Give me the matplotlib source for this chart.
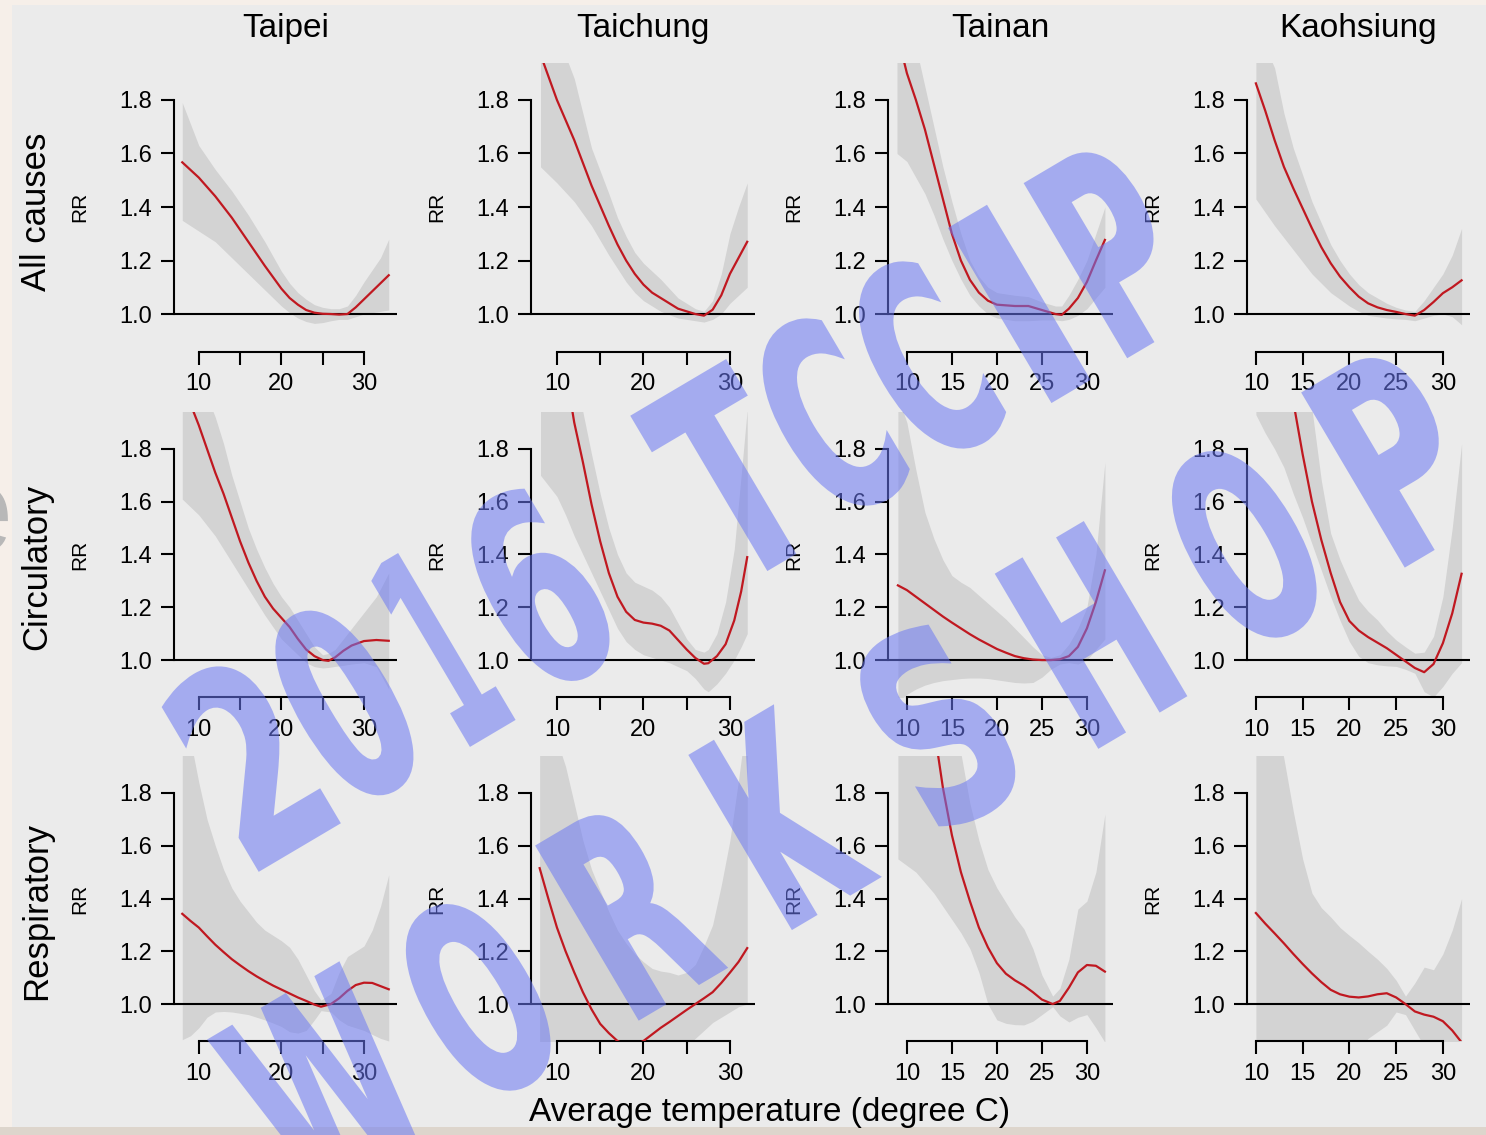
import matplotlib
matplotlib.use("Agg")
import matplotlib.pyplot as plt
import numpy as np
from matplotlib.textpath import TextPath
from matplotlib.font_manager import FontProperties
from matplotlib.patches import PathPatch, Rectangle
from matplotlib.transforms import Affine2D, IdentityTransform

plt.rcParams['font.family'] = ['Liberation Sans', 'DejaVu Sans']

# ---- labels ----
cities = ["Taipei", "Taichung", "Tainan", "Kaohsiung"]
causes = ["All causes", "Circulatory", "Respiratory"]
y_ticks = [1.0, 1.2, 1.4, 1.6, 1.8]
y_tick_labels = ["1.0", "1.2", "1.4", "1.6", "1.8"]
x_ticks = [10, 15, 20, 25, 30]
x_tick_labels_sparse = ["10", "", "20", "", "30"]
x_tick_labels_full = ["10", "15", "20", "25", "30"]
x_label = "Average temperature (degree C)"

# ---- All causes ----
all_taipei_t = [8, 10, 12, 14, 16, 18, 20, 21, 22, 23, 24, 25, 26, 27, 28, 29, 30, 31, 32, 33]
all_taipei_rr = [1.567, 1.51, 1.44, 1.36, 1.27, 1.18, 1.095, 1.06, 1.035, 1.015, 1.005, 1.001, 1.0, 0.998, 1.0, 1.025, 1.055, 1.085, 1.115, 1.145]
all_taipei_lo = [1.35, 1.31, 1.27, 1.21, 1.15, 1.09, 1.03, 1.005, 0.985, 0.972, 0.965, 0.968, 0.975, 0.98, 0.98, 0.99, 1.0, 1.005, 1.01, 1.015]
all_taipei_hi = [1.79, 1.63, 1.54, 1.46, 1.37, 1.27, 1.16, 1.115, 1.08, 1.055, 1.035, 1.025, 1.02, 1.02, 1.03, 1.07, 1.12, 1.165, 1.21, 1.28]

all_taichung_t = [8.1, 10, 12, 14, 16, 17, 18, 19, 20, 21, 22, 24, 26, 27, 28, 29, 30, 31, 32]
all_taichung_rr = [1.97, 1.80, 1.65, 1.48, 1.33, 1.26, 1.20, 1.15, 1.11, 1.08, 1.06, 1.02, 1.0, 0.994, 1.016, 1.07, 1.15, 1.21, 1.27]
all_taichung_lo = [1.55, 1.49, 1.42, 1.33, 1.22, 1.17, 1.12, 1.08, 1.05, 1.03, 1.01, 0.985, 0.975, 0.97, 0.98, 1.0, 1.04, 1.07, 1.10]
all_taichung_hi = [2.1, 2.05, 1.88, 1.62, 1.45, 1.36, 1.29, 1.23, 1.19, 1.16, 1.13, 1.06, 1.02, 1.01, 1.05, 1.15, 1.30, 1.40, 1.49]

all_tainan_t = [8.9, 10, 11, 12, 13, 14, 15, 16, 17, 18, 19, 20, 22, 23.5, 25, 26.5, 27.2, 28, 29, 30, 31, 32]
all_tainan_rr = [2.05, 1.90, 1.80, 1.69, 1.56, 1.43, 1.30, 1.20, 1.128, 1.08, 1.05, 1.035, 1.03, 1.03, 1.015, 1.0, 0.997, 1.02, 1.06, 1.12, 1.20, 1.277]
all_tainan_lo = [1.60, 1.57, 1.51, 1.45, 1.37, 1.28, 1.20, 1.13, 1.07, 1.03, 1.0, 0.985, 0.975, 0.975, 0.978, 0.978, 0.975, 0.98, 0.995, 1.02, 1.06, 1.10]
all_tainan_hi = [2.3, 2.15, 2.0, 1.85, 1.70, 1.55, 1.42, 1.30, 1.20, 1.14, 1.10, 1.08, 1.07, 1.065, 1.045, 1.03, 1.03, 1.07, 1.13, 1.20, 1.30, 1.40]

all_kaohsiung_t = [10, 11, 12, 13, 14, 15, 16, 17, 18, 19, 20, 21, 22, 23, 24, 25, 26, 27, 28, 29, 30, 31, 32]
all_kaohsiung_rr = [1.862, 1.76, 1.65, 1.55, 1.47, 1.395, 1.32, 1.25, 1.19, 1.14, 1.10, 1.065, 1.04, 1.025, 1.015, 1.008, 1.0, 0.994, 1.015, 1.045, 1.078, 1.10, 1.126]
all_kaohsiung_lo = [1.43, 1.38, 1.33, 1.285, 1.24, 1.195, 1.15, 1.115, 1.08, 1.055, 1.03, 1.01, 0.995, 0.99, 0.985, 0.982, 0.98, 0.975, 0.985, 0.995, 1.0, 0.99, 0.96]
all_kaohsiung_hi = [2.1, 2.0, 1.92, 1.75, 1.62, 1.52, 1.42, 1.34, 1.26, 1.20, 1.15, 1.11, 1.08, 1.06, 1.04, 1.025, 1.015, 1.01, 1.05, 1.10, 1.15, 1.22, 1.32]

# ---- Circulatory ----
circ_taipei_t = [8, 9, 10, 11, 12, 13, 14, 15, 16, 17, 18, 19, 20, 21, 22, 23, 24, 25, 25.7, 26.5, 27.5, 28.5, 30, 31.5, 33]
circ_taipei_rr = [2.05, 1.97, 1.89, 1.80, 1.71, 1.63, 1.54, 1.45, 1.37, 1.30, 1.24, 1.195, 1.16, 1.125, 1.08, 1.04, 1.015, 1.0, 0.997, 1.01, 1.035, 1.055, 1.072, 1.076, 1.073]
circ_taipei_lo = [1.61, 1.58, 1.55, 1.51, 1.47, 1.42, 1.37, 1.32, 1.27, 1.22, 1.17, 1.125, 1.08, 1.05, 1.02, 0.99, 0.975, 0.97, 0.972, 0.976, 0.98, 0.985, 0.99, 0.975, 0.89]
circ_taipei_hi = [2.3, 2.2, 2.1, 2.0, 1.92, 1.82, 1.70, 1.60, 1.50, 1.42, 1.35, 1.29, 1.24, 1.20, 1.15, 1.10, 1.05, 1.02, 1.025, 1.04, 1.08, 1.12, 1.18, 1.24, 1.33]

circ_taichung_t = [8.1, 10, 11, 12, 13, 14, 15, 16, 17, 18, 19, 20, 21, 22, 23, 24, 25, 26, 27, 27.5, 28.5, 29.5, 30.5, 31.3, 32]
circ_taichung_rr = [2.6, 2.3, 2.1, 1.9, 1.75, 1.59, 1.45, 1.33, 1.24, 1.183, 1.152, 1.142, 1.138, 1.13, 1.112, 1.076, 1.04, 1.008, 0.986, 0.988, 1.015, 1.06, 1.15, 1.26, 1.39]
circ_taichung_lo = [1.70, 1.62, 1.55, 1.47, 1.40, 1.33, 1.26, 1.19, 1.12, 1.07, 1.04, 1.02, 1.01, 1.0, 0.99, 0.975, 0.96, 0.93, 0.89, 0.88, 0.91, 0.95, 1.0, 1.05, 1.10]
circ_taichung_hi = [2.8, 2.6, 2.4, 2.2, 1.94, 1.78, 1.63, 1.50, 1.40, 1.33, 1.295, 1.28, 1.265, 1.24, 1.20, 1.14, 1.08, 1.04, 1.03, 1.04, 1.10, 1.22, 1.42, 1.70, 1.95]

circ_tainan_t = [9, 10, 11, 12, 13, 14, 15, 16, 17, 18, 19, 20, 21, 22, 23, 24, 25, 26, 27, 28, 29, 30, 31, 32]
circ_tainan_rr = [1.283, 1.265, 1.24, 1.215, 1.19, 1.165, 1.142, 1.12, 1.098, 1.078, 1.06, 1.042, 1.028, 1.015, 1.007, 1.002, 1.0, 1.0, 1.003, 1.015, 1.05, 1.12, 1.22, 1.34]
circ_tainan_lo = [0.84, 0.87, 0.89, 0.905, 0.915, 0.922, 0.926, 0.93, 0.932, 0.932, 0.93, 0.925, 0.92, 0.915, 0.913, 0.915, 0.935, 0.965, 0.985, 0.99, 0.985, 1.0, 1.04, 1.08]
circ_tainan_hi = [2.0, 1.9, 1.72, 1.56, 1.46, 1.38, 1.32, 1.295, 1.275, 1.245, 1.215, 1.185, 1.155, 1.12, 1.085, 1.05, 1.02, 1.01, 1.02, 1.06, 1.12, 1.20, 1.40, 1.75]

circ_kaohsiung_t = [10, 11, 12, 13, 14, 15, 16, 17, 18, 19, 20, 21, 22, 23, 24, 25, 26, 27, 28, 29, 30, 31, 32]
circ_kaohsiung_rr = [2.9, 2.7, 2.5, 2.25, 1.98, 1.78, 1.60, 1.455, 1.33, 1.22, 1.148, 1.112, 1.087, 1.066, 1.045, 1.02, 0.995, 0.97, 0.954, 0.985, 1.064, 1.177, 1.327]
circ_kaohsiung_lo = [1.93, 1.86, 1.80, 1.73, 1.63, 1.54, 1.44, 1.34, 1.24, 1.15, 1.07, 1.014, 0.99, 0.982, 0.978, 0.976, 0.965, 0.95, 0.88, 0.86, 0.90, 0.95, 0.99]
circ_kaohsiung_hi = [3.2, 3.0, 2.8, 2.6, 2.45, 2.3, 1.95, 1.68, 1.48, 1.38, 1.30, 1.227, 1.185, 1.152, 1.11, 1.076, 1.05, 1.026, 1.03, 1.09, 1.24, 1.50, 1.82]

# ---- Respiratory ----
resp_taipei_t = [8, 9, 10, 11, 12, 13, 14, 15, 16, 17, 18, 19, 20, 21, 22, 23, 24, 24.8, 26, 27, 28, 29, 30, 31, 32, 33]
resp_taipei_rr = [1.342, 1.315, 1.29, 1.257, 1.225, 1.197, 1.17, 1.147, 1.125, 1.105, 1.087, 1.07, 1.055, 1.04, 1.025, 1.012, 0.998, 0.99, 1.0, 1.022, 1.05, 1.072, 1.081, 1.08, 1.068, 1.056]
resp_taipei_lo = [0.865, 0.88, 0.91, 0.95, 0.97, 0.972, 0.97, 0.965, 0.96, 0.95, 0.94, 0.928, 0.915, 0.895, 0.89, 0.9, 0.94, 0.975, 0.97, 0.94, 0.92, 0.91, 0.9, 0.885, 0.87, 0.86]
resp_taipei_hi = [2.1, 2.0, 1.84, 1.70, 1.60, 1.51, 1.44, 1.39, 1.35, 1.31, 1.28, 1.26, 1.24, 1.215, 1.17, 1.11, 1.05, 1.015, 1.04, 1.12, 1.18, 1.20, 1.22, 1.28, 1.37, 1.49]

resp_taichung_t = [8, 9, 10, 11, 12, 13, 14, 15, 16, 17, 18, 19, 20, 21, 22, 23, 24, 25, 26, 27, 28, 29, 30, 31, 32]
resp_taichung_rr = [1.515, 1.40, 1.29, 1.20, 1.12, 1.045, 0.98, 0.925, 0.89, 0.86, 0.845, 0.845, 0.86, 0.885, 0.91, 0.932, 0.955, 0.978, 1.0, 1.022, 1.045, 1.08, 1.119, 1.16, 1.212]
resp_taichung_lo = [0.82, 0.82, 0.82, 0.81, 0.80, 0.79, 0.78, 0.765, 0.75, 0.735, 0.72, 0.725, 0.74, 0.76, 0.78, 0.80, 0.82, 0.84, 0.87, 0.90, 0.93, 0.95, 0.97, 0.99, 1.0]
resp_taichung_hi = [2.3, 2.15, 2.0, 1.9, 1.76, 1.62, 1.51, 1.43, 1.35, 1.28, 1.23, 1.19, 1.16, 1.135, 1.125, 1.12, 1.11, 1.12, 1.15, 1.22, 1.30, 1.45, 1.62, 1.85, 2.1]

resp_tainan_t = [9, 11, 12, 13, 14, 15, 16, 17, 18, 19, 20, 21, 22, 23, 24, 25, 26.2, 27, 28, 29, 30, 31, 32]
resp_tainan_rr = [3.0, 2.6, 2.35, 2.05, 1.82, 1.64, 1.50, 1.39, 1.29, 1.215, 1.155, 1.115, 1.09, 1.07, 1.045, 1.017, 1.0, 1.012, 1.062, 1.12, 1.148, 1.145, 1.123]
resp_tainan_lo = [1.55, 1.50, 1.46, 1.42, 1.37, 1.32, 1.27, 1.21, 1.12, 1.0, 0.94, 0.927, 0.922, 0.921, 0.935, 0.96, 0.99, 0.955, 0.932, 0.95, 0.96, 0.91, 0.855]
resp_tainan_hi = [3.4, 3.0, 2.8, 2.5, 2.25, 2.1, 1.95, 1.76, 1.62, 1.51, 1.44, 1.385, 1.33, 1.285, 1.21, 1.11, 1.03, 1.06, 1.17, 1.36, 1.39, 1.5, 1.72]

resp_kaohsiung_t = [10, 11, 12, 13, 14, 15, 16, 17, 18, 19, 20, 21, 22, 23, 24, 25, 26, 27, 28, 29, 30, 31, 32]
resp_kaohsiung_rr = [1.345, 1.305, 1.268, 1.23, 1.19, 1.152, 1.116, 1.083, 1.054, 1.037, 1.028, 1.025, 1.029, 1.037, 1.041, 1.025, 1.0, 0.972, 0.96, 0.952, 0.935, 0.9, 0.855]
resp_kaohsiung_lo = [0.75, 0.745, 0.74, 0.74, 0.74, 0.745, 0.75, 0.76, 0.77, 0.785, 0.8, 0.83, 0.87, 0.895, 0.92, 0.97, 0.96, 0.9, 0.84, 0.8, 0.78, 0.75, 0.72]
resp_kaohsiung_hi = [2.3, 2.2, 2.1, 1.93, 1.73, 1.55, 1.42, 1.365, 1.33, 1.29, 1.26, 1.232, 1.20, 1.17, 1.135, 1.09, 1.03, 1.08, 1.14, 1.13, 1.19, 1.28, 1.40]

panels = [
    [(all_taipei_t, all_taipei_rr, all_taipei_lo, all_taipei_hi),
     (all_taichung_t, all_taichung_rr, all_taichung_lo, all_taichung_hi),
     (all_tainan_t, all_tainan_rr, all_tainan_lo, all_tainan_hi),
     (all_kaohsiung_t, all_kaohsiung_rr, all_kaohsiung_lo, all_kaohsiung_hi)],
    [(circ_taipei_t, circ_taipei_rr, circ_taipei_lo, circ_taipei_hi),
     (circ_taichung_t, circ_taichung_rr, circ_taichung_lo, circ_taichung_hi),
     (circ_tainan_t, circ_tainan_rr, circ_tainan_lo, circ_tainan_hi),
     (circ_kaohsiung_t, circ_kaohsiung_rr, circ_kaohsiung_lo, circ_kaohsiung_hi)],
    [(resp_taipei_t, resp_taipei_rr, resp_taipei_lo, resp_taipei_hi),
     (resp_taichung_t, resp_taichung_rr, resp_taichung_lo, resp_taichung_hi),
     (resp_tainan_t, resp_tainan_rr, resp_tainan_lo, resp_tainan_hi),
     (resp_kaohsiung_t, resp_kaohsiung_rr, resp_kaohsiung_lo, resp_kaohsiung_hi)],
]

# watermark text, one glyph width (px) per character
wm_line1 = "2016 TCCIP"
wm_line1_widths = [92, 92, 50, 92, 0, 108, 88, 88, 42, 90]
wm_line2 = "WORKSHOP"
wm_line2_widths = [150, 105, 100, 100, 100, 100, 105, 100]

# ---- layout (pixels of the 1486x1135 image) ----
W, H = 1486, 1135
col_left = [174, 531, 888, 1247]
col_right = [397, 755, 1113, 1470]
row_top = [62.5, 412, 756]
row_bottom = [351.5, 697, 1041]
col_xlim = [(7.0, 34.0), (7.0, 32.9), (7.9, 32.9), (9.05, 32.9)]
ylim = (0.86, 1.94)

bg = "#ebebeb"
band_col = "#d3d3d3"
line_col = "#c01820"

fig = plt.figure(figsize=(W / 100, H / 100), dpi=100)
fig.patch.set_facecolor("#f6efe9")

# slide background pieces
fig.text(-22 / W, 1 - 520 / H, "e", fontsize=90, color="#b8b8b8",
         ha="center", va="center", zorder=-3)
fig.add_artist(Rectangle((0, 1 - 1135 / H), 1, 8 / H, transform=fig.transFigure,
                         facecolor="#ddd5cc", edgecolor="none", zorder=-2))
fig.add_artist(Rectangle((12 / W, 1 - 1127 / H), 1 - 12 / W, 1122 / H,
                         transform=fig.transFigure, facecolor=bg,
                         edgecolor="none", zorder=-1))

for r in range(3):
    for c in range(4):
        l, rr_, t, b = col_left[c], col_right[c], row_top[r], row_bottom[r]
        ax = fig.add_axes([l / W, 1 - b / H, (rr_ - l) / W, (b - t) / H])
        ax.patch.set_visible(False)
        temp, rr, lo, hi = panels[r][c]
        ax.fill_between(temp, lo, hi, color=band_col, linewidth=0, zorder=1)
        ax.plot(temp, rr, color=line_col, linewidth=1.6, zorder=3)
        ax.axhline(1.0, color="black", linewidth=1.5, zorder=2)
        ax.set_xlim(*col_xlim[c])
        ax.set_ylim(*ylim)
        for s in ["top", "right"]:
            ax.spines[s].set_visible(False)
        ax.spines["left"].set_bounds(1.0, 1.8)
        ax.spines["bottom"].set_bounds(10, 30)
        ax.spines["left"].set_linewidth(1.5)
        ax.spines["bottom"].set_linewidth(1.5)
        ax.set_yticks(y_ticks)
        ax.set_yticklabels(y_tick_labels)
        ax.set_xticks(x_ticks)
        ax.set_xticklabels(x_tick_labels_sparse if c < 2 else x_tick_labels_full)
        ax.tick_params(direction="out", length=9.5, width=1.5, labelsize=17,
                       pad=6, colors="black")
        ax.text(-94 / (rr_ - l), 0.5, "RR", rotation=90, ha="center",
                va="center", fontsize=15, transform=ax.transAxes)
        if r == 0:
            ax.text(0.5, 1 + 34 / (b - t), cities[c], ha="center", va="center",
                    fontsize=24, transform=ax.transAxes)

row_label_y = [212, 567, 911]
for r in range(3):
    fig.text(37 / W, 1 - row_label_y[r] / H, causes[r], rotation=90,
             ha="center", va="center", fontsize=25)

fig.text(770 / W, 1 - 1112 / H, x_label, ha="center", va="center", fontsize=24)

# ---- watermark: glyph outlines drawn into a mask, then laid over as a tinted image ----
wm_fp = FontProperties(family="DejaVu Sans", weight="bold")
wm_color = np.array([107, 120, 243]) / 255
wm_cap = 200


def glyph_paths(text, widths, cx0, cy0, pitch, angle):
    a = np.deg2rad(angle)
    out = []
    for i, (ch, w) in enumerate(zip(text, widths)):
        if ch == " ":
            continue
        # centre of glyph i along the slanted baseline (image coords, y down)
        cx = cx0 + i * pitch * np.cos(a)
        cy = cy0 - i * pitch * np.sin(a)
        tp = TextPath((0, 0), ch, size=100, prop=wm_fp)
        ext = tp.get_extents()
        tr = (Affine2D()
              .translate(-(ext.x0 + ext.x1) / 2, -(ext.y0 + ext.y1) / 2)
              .scale(w / ext.width, wm_cap / ext.height)
              .rotate_deg(angle)
              .translate(cx, H - cy))
        out.append(tr.transform_path(tp))
    return out


paths = (glyph_paths(wm_line1, wm_line1_widths, 248, 760, 112, 30.6)
         + glyph_paths(wm_line2, wm_line2_widths, 325, 1088, 178, 30.6))

mask_fig = plt.figure(figsize=(W / 100, H / 100), dpi=100)
mask_fig.patch.set_facecolor("white")
for p in paths:
    mask_fig.add_artist(PathPatch(p, transform=IdentityTransform(),
                                  facecolor="black", edgecolor="black",
                                  linewidth=2.5, joinstyle="miter"))
mask_fig.canvas.draw()
buf = np.asarray(mask_fig.canvas.buffer_rgba()).astype(float)
plt.close(mask_fig)
mask = 1 - buf[:, :, 0] / 255.0

overlay = np.zeros(mask.shape + (4,))
overlay[..., :3] = wm_color
overlay[..., 3] = 0.55 * mask
fig.figimage(overlay, xo=0, yo=0, origin="upper", zorder=10)

fig.savefig("out.png", dpi=100, facecolor=fig.get_facecolor())
